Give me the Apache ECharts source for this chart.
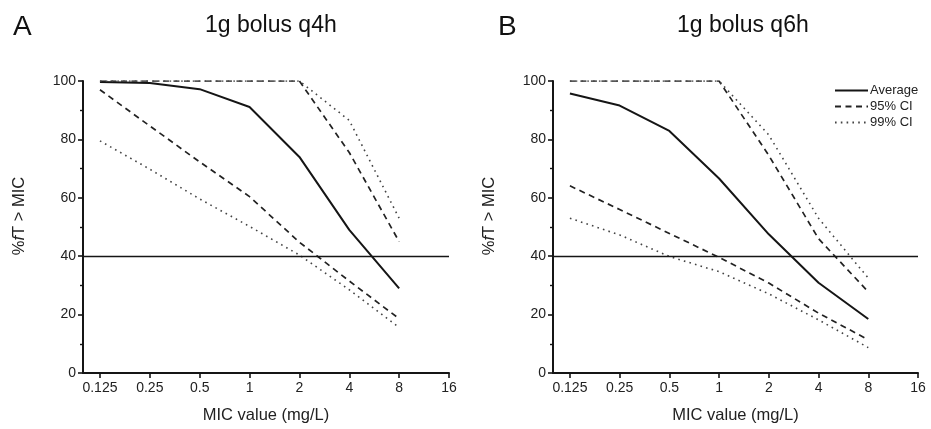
<!DOCTYPE html>
<html>
<head>
    <meta charset="utf-8">
    <title>%fT > MIC</title>
    <script src="https://cdn.jsdelivr.net/npm/echarts@6.0.0/dist/echarts.min.js"></script>
    <style>
        html, body { margin: 0; padding: 0; background: #fff; }
        #main { width: 931px; height: 429px; }
    </style>
</head>
<body>
<div id="main"></div>
<script>
    // MIC (mg/L) at each point, and tick labels of the x axis
    var mic = [0.125, 0.25, 0.5, 1, 2, 4, 8];
    var micTicks = [0.125, 0.25, 0.5, 1, 2, 4, 8, 16];

    // A: 1g bolus q4h
    var aAvg   = [99.7, 99.3, 97.2, 91.1, 74.0, 49.0, 29.0];
    var a95Up  = [100, 100, 100, 100, 100, 75.5, 45.0];
    var a95Lo  = [97.0, 84.6, 72.3, 60.4, 44.8, 31.5, 18.6];
    var a99Up  = [100, 100, 100, 100, 100, 86.5, 53.0];
    var a99Lo  = [79.5, 69.8, 59.6, 50.2, 40.4, 28.5, 15.6];

    // B: 1g bolus q6h
    var bAvg   = [95.7, 91.6, 82.9, 66.6, 47.5, 30.9, 18.5];
    var b95Up  = [100, 100, 100, 100, 74.5, 46.0, 27.8];
    var b95Lo  = [64.1, 56.0, 47.8, 39.6, 30.8, 20.5, 11.4];
    var b99Up  = [100, 100, 100, 100, 81.5, 53.0, 32.5];
    var b99Lo  = [53.0, 47.3, 39.9, 34.7, 27.1, 18.2, 8.7];

    var FONT = 'Liberation Sans, Arial, sans-serif';
    var INK = '#151515';

    function pts(vals) {
        return mic.map(function (m, i) { return [Math.log2(m), vals[i]]; });
    }

    function line(name, idx, vals, kind) {
        var ls = { color: INK, width: 2, type: 'solid' };
        if (kind === 'dash') ls = { color: '#222', width: 1.7, type: [6, 4.5] };
        if (kind === 'dot') ls = { color: '#444', width: 1.6, type: [1.6, 4.2] };
        var s = {
            name: name, type: 'line', xAxisIndex: idx, yAxisIndex: idx,
            data: pts(vals), symbol: 'none', lineStyle: ls,
            itemStyle: { color: ls.color }, silent: true
        };
        if (kind === 'solid') {
            s.markLine = {
                silent: true, symbol: 'none', label: { show: false },
                lineStyle: { color: INK, width: 1.3, type: 'solid' },
                data: [{ yAxis: 40 }]
            };
        }
        return s;
    }

    function xAx(idx) {
        var ticks = micTicks.map(function (m) { return Math.log2(m); });
        return {
            type: 'value', gridIndex: idx, min: -3.34, max: 4,
            name: 'MIC value (mg/L)', nameLocation: 'middle', nameGap: 34,
            nameTextStyle: { fontFamily: FONT, fontSize: 16.5, color: '#222' },
            axisLine: { show: true, onZero: false, lineStyle: { color: INK, width: 2 } },
            axisTick: { show: true, length: 5, customValues: ticks, lineStyle: { color: INK, width: 1.6 } },
            axisLabel: {
                customValues: ticks, margin: 8, fontFamily: FONT, fontSize: 14, color: '#222',
                formatter: function (v) { return String(Math.pow(2, v)); }
            },
            splitLine: { show: false }
        };
    }

    function yAx(idx) {
        return {
            type: 'value', gridIndex: idx, min: 0, max: 100, interval: 20,
            name: '%{i|f}T > MIC', nameLocation: 'middle', nameGap: 55,
            nameTextStyle: {
                fontFamily: FONT, fontSize: 16.5, color: '#222', padding: [0, 0, 0, 22],
                rich: { i: { fontFamily: FONT, fontSize: 16.5, fontStyle: 'italic', color: '#222' } }
            },
            axisLine: { show: true, onZero: false, lineStyle: { color: INK, width: 2 } },
            axisTick: { show: true, length: 5, lineStyle: { color: INK, width: 1.6 } },
            minorTick: { show: true, splitNumber: 2, length: 3, lineStyle: { color: INK, width: 1.4 } },
            axisLabel: { margin: 7, fontFamily: FONT, fontSize: 14, color: '#222' },
            splitLine: { show: false }
        };
    }

    var option = {
        animation: false,
        backgroundColor: '#fff',
        title: [
            { text: 'A', left: 8, top: 8, textStyle: { fontFamily: FONT, fontSize: 28, fontWeight: 'normal', color: '#111' } },
            { text: '1g bolus q4h', left: 200, top: 9, textStyle: { fontFamily: FONT, fontSize: 23, fontWeight: 'normal', color: '#111' } },
            { text: 'B', left: 493, top: 8, textStyle: { fontFamily: FONT, fontSize: 28, fontWeight: 'normal', color: '#111' } },
            { text: '1g bolus q6h', left: 672, top: 9, textStyle: { fontFamily: FONT, fontSize: 23, fontWeight: 'normal', color: '#111' } }
        ],
        legend: {
            data: ['Average', '95% CI', '99% CI'],
            orient: 'vertical', left: 829, top: 79,
            itemWidth: 33, itemHeight: 12, itemGap: 3,
            itemStyle: { opacity: 0 },
            textStyle: { fontFamily: FONT, fontSize: 13, color: '#222', padding: [0, 0, 0, -3] },
            selectedMode: false
        },
        grid: [
            { left: 83, top: 81, width: 366, height: 292 },
            { left: 553, top: 81, width: 365, height: 292 }
        ],
        xAxis: [xAx(0), xAx(1)],
        yAxis: [yAx(0), yAx(1)],
        series: [
            line('Average', 0, aAvg, 'solid'),
            line('95% CI', 0, a95Up, 'dash'),
            line('95% CI', 0, a95Lo, 'dash'),
            line('99% CI', 0, a99Up, 'dot'),
            line('99% CI', 0, a99Lo, 'dot'),
            line('Average', 1, bAvg, 'solid'),
            line('95% CI', 1, b95Up, 'dash'),
            line('95% CI', 1, b95Lo, 'dash'),
            line('99% CI', 1, b99Up, 'dot'),
            line('99% CI', 1, b99Lo, 'dot')
        ]
    };

    var myChart = echarts.init(document.getElementById('main'));
    myChart.setOption(option);
</script>
</body>
</html>
